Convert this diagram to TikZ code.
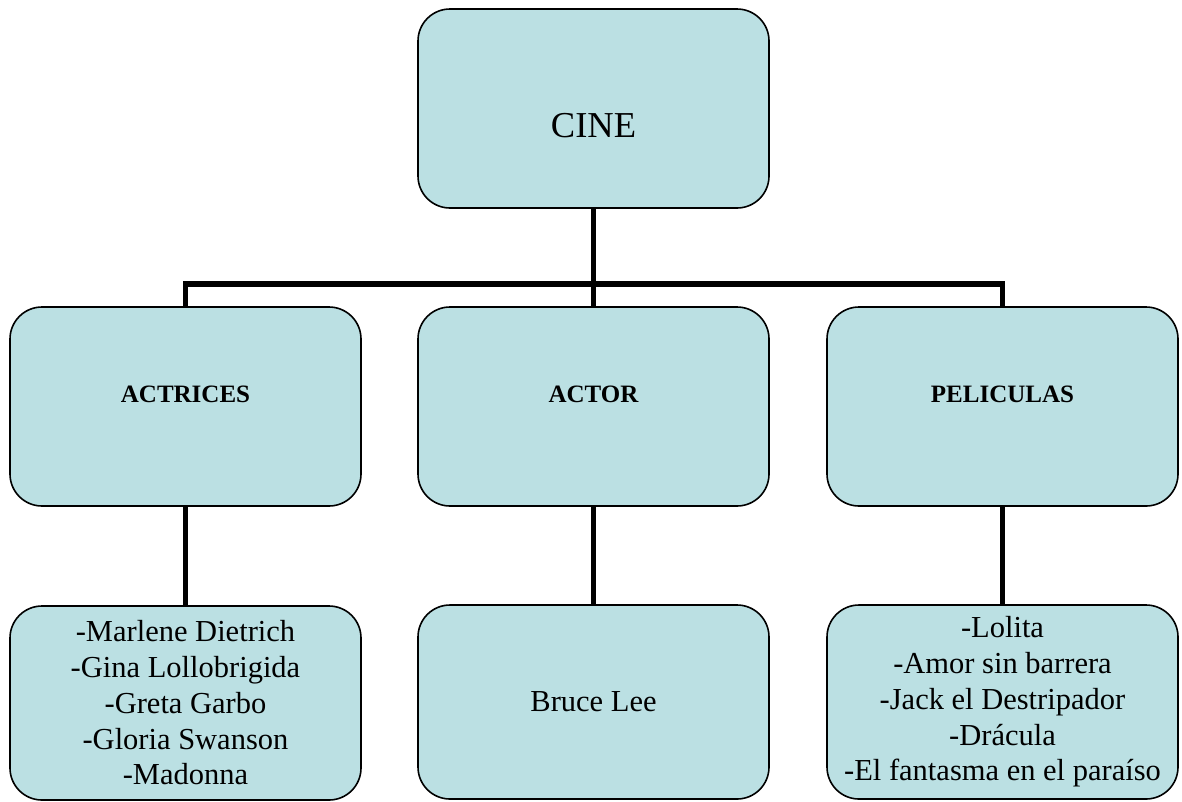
\documentclass[tikz,border=0pt]{standalone}
\usepackage{fontspec}
\setmainfont{Liberation Serif}
\usetikzlibrary{shapes,arrows}
\definecolor{cajas}{RGB}{187,224,227}
\tikzstyle{line} = [draw, line width=5.5pt]

\begin{document}
\begin{tikzpicture}
  [x=1pt,y=-1pt,
   caja/.style={rectangle,rounded corners=32pt,draw=black,line width=1.6pt,fill=cajas,
     minimum width=351pt,minimum height=199pt,align=center,inner sep=0pt},
   titulo/.style={font=\fontsize{25}{30}\selectfont\bfseries},
   lista/.style={font=\fontsize{30.5}{35.75}\selectfont,minimum height=194pt}]
  \useasboundingbox (0,0) rectangle (1182,801);

  \node[caja] (cine) at (593.5,108.5) {};
  \node (cine_t) [font=\fontsize{36.5}{43}\selectfont] at ([yshift=-17.5pt]cine.center) {CINE};

  \node[caja] (actrices) at (185.5,406.5) {};
  \node[caja] (actor) at (593.5,406.5) {};
  \node[caja] (peliculas) at (1002.5,406.5) {};
  \node[titulo] (actrices_t) at ([yshift=12.5pt]actrices.center) {ACTRICES};
  \node[titulo] (actor_t) at ([yshift=12.5pt]actor.center) {ACTOR};
  \node[titulo] (peliculas_t) at ([yshift=12.5pt]peliculas.center) {PELICULAS};

  \node[caja,lista] (nombres) at (185.5,703) {-Marlene Dietrich\\-Gina Lollobrigida\\-Greta Garbo\\-Gloria Swanson\\-Madonna};
  \node[caja,lista] (bruce) at (593.5,702) {Bruce Lee};
  \node[caja,lista] (titulos) at (1002.5,702) {-Lolita\\-Amor sin barrera\\-Jack el Destripador\\-Drácula\\-El fantasma en el paraíso};

  \coordinate (rama) at (593.5,284);
  \path [line] (cine) -- (actor);
  \path [line] (actrices.north) |- (rama) -| (peliculas.north);
  \path [line] (actrices) -- (nombres);
  \path [line] (actor) -- (bruce);
  \path [line] (peliculas) -- (titulos);

\end{tikzpicture}
\end{document}
